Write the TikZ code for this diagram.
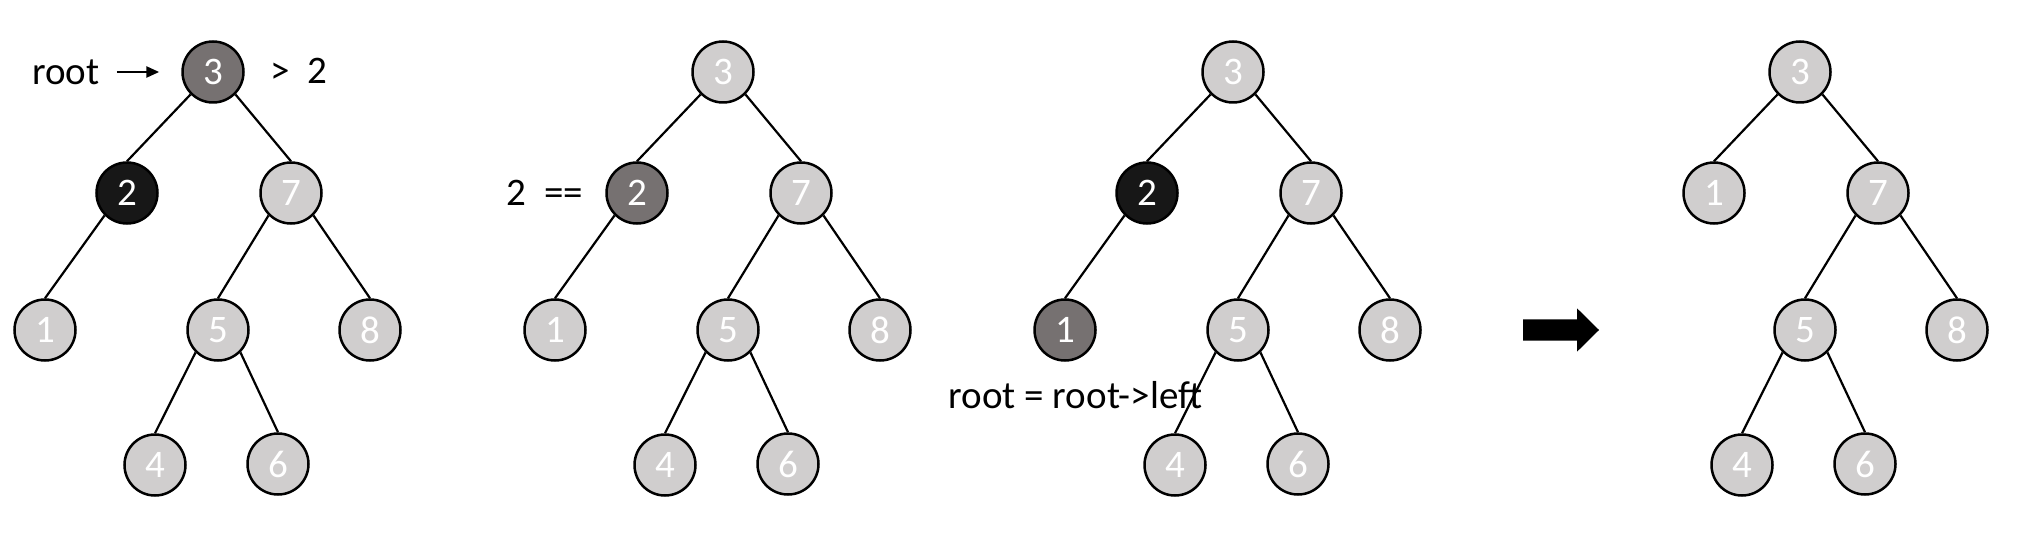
\documentclass[tikz,border=0pt]{standalone}
\usepackage{fontspec}
\setmainfont{Carlito}
\usetikzlibrary{arrows.meta}
\definecolor{lgray}{HTML}{D0CECE}
\definecolor{dgray}{HTML}{767171}
\definecolor{blk}{HTML}{171717}
\begin{document}
\begin{tikzpicture}[x=1pt,y=-1pt,
  nd/.style={circle,draw=black,line width=2.5pt,minimum size=61pt,inner sep=0pt,text=white,font=\fontsize{39}{39}\selectfont},
  lt/.style={nd,fill=lgray},
  dk/.style={nd,fill=dgray},
  bk/.style={nd,fill=blk},
  edge/.style={line width=2.2pt},
  lbl/.style={anchor=base,inner sep=0pt,font=\fontsize{39}{39}\selectfont}]
\useasboundingbox (0,0) rectangle (2022,540);
% tree 1
\node[dk] (a3) at (213,72) {3};
\node[bk] (a2) at (127,193) {2};
\node[lt] (a7) at (291,193) {7};
\node[lt] (a1) at (45,330) {1};
\node[lt] (a5) at (218,330) {5};
\node[lt] (a8) at (370,330) {8};
\node[lt] (a4) at (155,465) {4};
\node[lt] (a6) at (278,464) {6};
\draw[edge] (a3.south west)--(a2.north) (a3.south east)--(a7.north) (a2.south west)--(a1.north)
  (a7.south west)--(a5.north) (a7.south east)--(a8.north) (a5.south west)--(a4.north) (a5.south east)--(a6.north);
\node[lbl] (rootlbl) at (66,85) {root};
\node[lbl] (gt) at (299,84) {>\ \ 2};
\draw[line width=2.6pt,-{Triangle[length=13pt,width=11pt]},shorten <=17pt,shorten >=22pt] (rootlbl.east |- a3) -- (a3.west);
% tree 2
\node[lt] (b3) at (723,72) {3};
\node[dk] (b2) at (637,193) {2};
\node[lt] (b7) at (801,193) {7};
\node[lt] (b1) at (555,330) {1};
\node[lt] (b5) at (728,330) {5};
\node[lt] (b8) at (880,330) {8};
\node[lt] (b4) at (665,465) {4};
\node[lt] (b6) at (788,464) {6};
\draw[edge] (b3.south west)--(b2.north) (b3.south east)--(b7.north) (b2.south west)--(b1.north)
  (b7.south west)--(b5.north) (b7.south east)--(b8.north) (b5.south west)--(b4.north) (b5.south east)--(b6.north);
\node[lbl] (eq) at (545,205.5) {2\ \ ==};
% tree 3
\node[lt] (c3) at (1233,72) {3};
\node[bk] (c2) at (1147,193) {2};
\node[lt] (c7) at (1311,193) {7};
\node[dk] (c1) at (1065,330) {1};
\node[lt] (c5) at (1238,330) {5};
\node[lt] (c8) at (1390,330) {8};
\node[lt] (c4) at (1175,465) {4};
\node[lt] (c6) at (1298,464) {6};
\node[lbl] (asg) at (1075.5,408) {root = root->left};
\draw[edge] (c3.south west)--(c2.north) (c3.south east)--(c7.north) (c2.south west)--(c1.north)
  (c7.south west)--(c5.north) (c7.south east)--(c8.north) (c5.south west)--(c4.north) (c5.south east)--(c6.north);
% block arrow
\fill[black] (1523,319.3) -- (1577,319.3) -- (1577,308.3) -- (1599,330) -- (1577,351.7) -- (1577,340.7) -- (1523,340.7) -- cycle;
% tree 4
\node[lt] (d3) at (1800,72) {3};
\node[lt] (d1) at (1714,193) {1};
\node[lt] (d7) at (1878,193) {7};
\node[lt] (d5) at (1805,330) {5};
\node[lt] (d8) at (1957,330) {8};
\node[lt] (d4) at (1742,465) {4};
\node[lt] (d6) at (1865,464) {6};
\draw[edge] (d3.south west)--(d1.north) (d3.south east)--(d7.north)
  (d7.south west)--(d5.north) (d7.south east)--(d8.north) (d5.south west)--(d4.north) (d5.south east)--(d6.north);
\end{tikzpicture}
\end{document}
